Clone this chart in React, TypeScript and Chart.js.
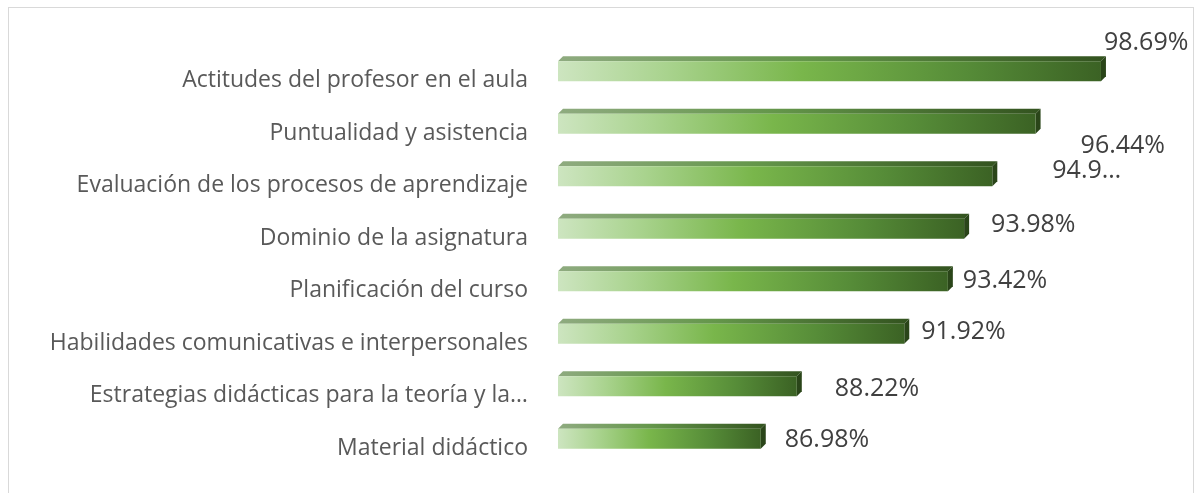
import React, { useEffect, useRef } from "react";
import { Chart, registerables } from "chart.js";

Chart.register(...registerables);

// ---- data ----
const categories: string[] = [
  "Actitudes del profesor en el aula",
  "Puntualidad y asistencia",
  "Evaluación de los procesos de aprendizaje",
  "Dominio de la asignatura",
  "Planificación del curso",
  "Habilidades comunicativas e interpersonales",
  "Estrategias didácticas para la teoría y la…",
  "Material didáctico",
];
const values: number[] = [98.69, 96.44, 94.95, 93.98, 93.42, 91.92, 88.22, 86.98];
const valueLabels: string[] = [
  "98.69%",
  "96.44%",
  "94.9…",
  "93.98%",
  "93.42%",
  "91.92%",
  "88.22%",
  "86.98%",
];
const axisMin = 80;
const axisMax = 100;

// ---- style (label placement relative to bar end, in px) ----
const labelShift: [number, number][] = [
  [3, -28],
  [45, 22],
  [60, -5],
  [27, -4],
  [15, 0],
  [17, -2],
  [38, 3],
  [24, 1],
];
const DEPTH = 5;

const borderPlugin = {
  id: "outerBorder",
  beforeDraw(chart: any) {
    const ctx = chart.ctx;
    ctx.save();
    ctx.strokeStyle = "#d9d9d9";
    ctx.lineWidth = 1;
    ctx.strokeRect(8.5, 7.5, 1185, 600);
    ctx.restore();
  },
};

const bars3dPlugin = {
  id: "bars3d",
  afterDatasetsDraw(chart: any) {
    const ctx = chart.ctx;
    const meta = chart.getDatasetMeta(0);
    const xScale = chart.scales.x;
    ctx.save();
    meta.data.forEach((el: any, i: number) => {
      const p = el.getProps(["x", "y", "base", "height"], true);
      const left = xScale.getPixelForValue(axisMin);
      const right = p.x;
      const top = p.y - p.height / 2;
      const bottom = p.y + p.height / 2;
      const d = DEPTH;

      // top face
      const gTop = ctx.createLinearGradient(left, 0, right + d, 0);
      gTop.addColorStop(0, "#8fab80");
      gTop.addColorStop(0.45, "#64964a");
      gTop.addColorStop(1, "#33531f");
      ctx.fillStyle = gTop;
      ctx.beginPath();
      ctx.moveTo(left, top);
      ctx.lineTo(left + d, top - d);
      ctx.lineTo(right + d, top - d);
      ctx.lineTo(right, top);
      ctx.closePath();
      ctx.fill();

      // side face
      ctx.fillStyle = "#2a4519";
      ctx.beginPath();
      ctx.moveTo(right, top);
      ctx.lineTo(right + d, top - d);
      ctx.lineTo(right + d, bottom - d);
      ctx.lineTo(right, bottom);
      ctx.closePath();
      ctx.fill();

      // front face
      const gFront = ctx.createLinearGradient(left, 0, right, 0);
      gFront.addColorStop(0, "#cde5c0");
      gFront.addColorStop(0.2, "#a9d38e");
      gFront.addColorStop(0.45, "#79b64b");
      gFront.addColorStop(0.75, "#568c38");
      gFront.addColorStop(1, "#3b6224");
      ctx.fillStyle = gFront;
      ctx.fillRect(left, top, right - left, bottom - top);

      // value label
      const [dx, dy] = labelShift[i] || [10, 0];
      ctx.fillStyle = "#404040";
      ctx.font = '25px "Open Sans", sans-serif';
      ctx.textAlign = "left";
      ctx.textBaseline = "middle";
      ctx.fillText(valueLabels[i], right + dx, p.y + dy);
    });
    ctx.restore();
  },
};

export default function App() {
  const ref = useRef<HTMLCanvasElement | null>(null);

  useEffect(() => {
    if (!ref.current) return;
    const chart = new Chart(ref.current, {
      type: "bar",
      data: {
        labels: categories,
        datasets: [
          {
            data: values,
            base: axisMin,
            backgroundColor: "rgba(0,0,0,0)",
            borderWidth: 0,
            barThickness: 20,
          },
        ],
      },
      options: {
        indexAxis: "y",
        responsive: false,
        animation: false,
        layout: { padding: { top: 45, bottom: 28, left: 0, right: 58 } },
        plugins: {
          legend: { display: false },
          tooltip: { enabled: false },
        },
        scales: {
          x: { min: axisMin, max: axisMax, display: false },
          y: {
            grid: { display: false, drawTicks: true, tickLength: 30 },
            border: { display: false },
            ticks: {
              padding: 0,
              labelOffset: 9.5,
              color: "#595959",
              font: { family: '"Open Sans", sans-serif', size: 23 },
              autoSkip: false,
            },
            afterFit(scale: any) {
              scale.width = 558;
            },
          },
        },
      },
      plugins: [borderPlugin, bars3dPlugin],
    } as any);
    return () => chart.destroy();
  }, []);

  return (
    <div style={{ position: "fixed", left: 0, top: 0, width: 1197, height: 493, background: "#fff" }}>
      <canvas ref={ref} width={1197} height={493} style={{ width: 1197, height: 493 }} />
    </div>
  );
}
